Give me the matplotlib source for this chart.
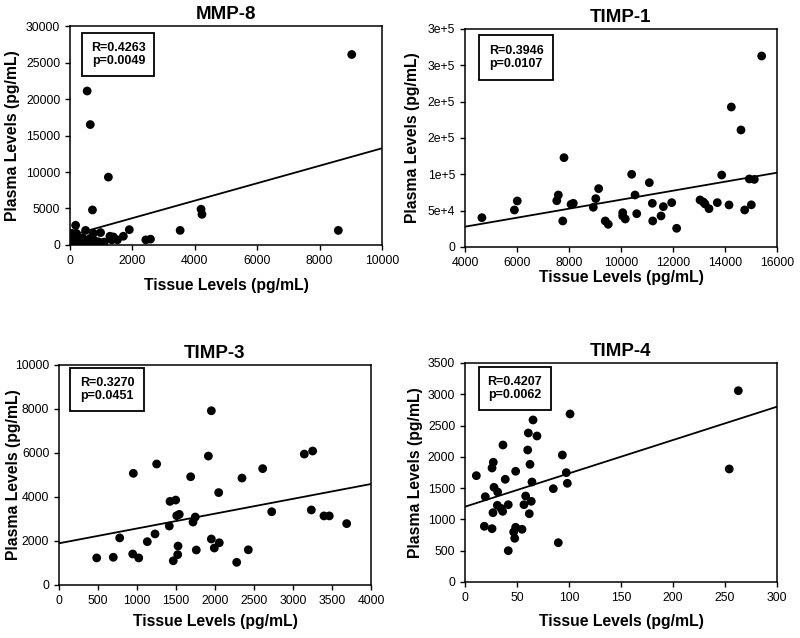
import matplotlib
matplotlib.use("Agg")
import matplotlib.pyplot as plt
from matplotlib.patches import Rectangle

plt.rcParams['font.family'] = ['Liberation Sans', 'DejaVu Sans']

# ---------------- data ----------------
mmp8_x = [9030, 550, 650, 1230, 720, 4200, 4230, 8600, 3530, 1900, 180, 500, 50, 200,
          750, 980, 0, 150, 320, 400, 640, 750, 900, 1030, 1280, 1390, 1340, 1520, 1710,
          2430, 2580, 100, 430, 590, 820, 700, 250, 60, 1100, 350]
mmp8_y = [26100, 21100, 16500, 9300, 4800, 4900, 4200, 2000, 2000, 2100, 2700, 2000, 1600, 1600,
          1600, 1700, 700, 1000, 700, 1000, 900, 700, 450, 300, 1200, 1100, 700, 700, 1200,
          700, 800, 450, 450, 450, 450, 200, 300, 300, 400, 600]
mmp8_trend_x = [0, 10000]
mmp8_trend_y = [1290, 13250]

timp1_x = [15410, 14243, 14615, 7808, 10410, 13873, 14935, 15127, 11090, 9140, 7590, 7530,
           6010, 5900, 4650, 7760, 8080, 8165, 9030, 8935, 9395, 9510, 10065, 10065, 10165,
           10540, 10605, 11205, 11220, 11540, 11630, 11950, 12140, 13040, 13165, 13230,
           13385, 13705, 14155, 14757, 15012]
timp1_y = [262800, 192600, 161000, 122900, 100000, 99000, 93600, 93000, 88500, 80300, 71500,
           63700, 63300, 50900, 40300, 35800, 58700, 60100, 66500, 54600, 35800, 31200, 47200,
           42700, 38500, 71500, 45800, 60100, 35800, 42700, 55500, 61000, 25700, 64700, 61900,
           59200, 52700, 61000, 57800, 50900, 58000]
timp1_trend_x = [4000, 16000]
timp1_trend_y = [27900, 102200]
timp1_yticks = [0, 50000, 100000, 150000, 200000, 250000, 300000]
timp1_yticklabels = ["0", "5e+4", "1e+5", "2e+5", "2e+5", "3e+5", "3e+5"]

timp3_x = [1953, 1915, 3145, 3252, 1252, 953, 1688, 2346, 2611, 2047, 1423, 1496, 1509, 1542,
           1747, 1718, 1414, 1231, 778, 1132, 1953, 2055, 1991, 1526, 1760, 1522, 1465, 945,
           1022, 696, 483, 2278, 2427, 2727, 3235, 3397, 3465, 3688]
timp3_y = [7920, 5860, 5950, 6090, 5500, 5075, 4920, 4860, 5290, 4200, 3800, 3860, 3150, 3210,
           3090, 2860, 2680, 2320, 2140, 1970, 2090, 1920, 1680, 1770, 1590, 1380, 1100, 1410,
           1230, 1260, 1230, 1030, 1600, 3330, 3410, 3140, 3140, 2790]
timp3_trend_x = [0, 4000]
timp3_trend_y = [1895, 4590]

timp4_x = [262.8, 254.1, 101, 65.4, 60.9, 69.2, 36.5, 60.3, 93.6, 27.2, 26, 62.5, 10.9, 48.7,
           97.4, 38.7, 64.4, 98.4, 84.9, 27.9, 19.5, 31.4, 58.3, 31.1, 34.6, 36.2, 41.6, 56.7,
           63.7, 26.9, 61.8, 18.6, 26, 48.7, 54.8, 46.8, 47.8, 89.7, 41.6]
timp4_y = [3057, 1806, 2685, 2589, 2381, 2333, 2189, 2109, 2029, 1913, 1822, 1880, 1699, 1769,
           1747, 1641, 1598, 1577, 1491, 1513, 1363, 1438, 1374, 1225, 1177, 1129, 1235, 1235,
           1289, 1107, 1091, 890, 852, 874, 842, 799, 698, 628, 500]
timp4_trend_x = [0, 300]
timp4_trend_y = [1203, 2801]

titles = ["MMP-8", "TIMP-1", "TIMP-3", "TIMP-4"]
stats = ["R=0.4263\np=0.0049", "R=0.3946\np=0.0107", "R=0.3270\np=0.0451", "R=0.4207\np=0.0062"]
xlabel = "Tissue Levels (pg/mL)"
ylabel = "Plasma Levels (pg/mL)"

# ---------------- figure ----------------
fig = plt.figure(figsize=(8.0, 6.38), dpi=100)
fig.patch.set_facecolor("white")

axes_pos = [
    [0.0875, 0.616, 0.39, 0.3432],
    [0.58125, 0.6129, 0.39, 0.3417],
    [0.07375, 0.0831, 0.39, 0.3448],
    [0.58125, 0.0878, 0.39, 0.3433],
]
box_pos = [
    (0.040, 0.772, 0.230, 0.198),
    (0.044, 0.767, 0.239, 0.207),
    (0.035, 0.792, 0.237, 0.193),
    (0.044, 0.784, 0.232, 0.196),
]
ylabel_x = [-0.183, -0.167, -0.147, -0.160]
xlabel_y = [-0.183, -0.138, -0.167, -0.181]

panels = [
    (mmp8_x, mmp8_y, mmp8_trend_x, mmp8_trend_y, (0, 10000), (0, 30000),
     [0, 2000, 4000, 6000, 8000, 10000], [0, 5000, 10000, 15000, 20000, 25000, 30000], None),
    (timp1_x, timp1_y, timp1_trend_x, timp1_trend_y, (4000, 16000), (0, 300000),
     [4000, 6000, 8000, 10000, 12000, 14000, 16000], timp1_yticks, timp1_yticklabels),
    (timp3_x, timp3_y, timp3_trend_x, timp3_trend_y, (0, 4000), (0, 10000),
     [0, 500, 1000, 1500, 2000, 2500, 3000, 3500, 4000], [0, 2000, 4000, 6000, 8000, 10000], None),
    (timp4_x, timp4_y, timp4_trend_x, timp4_trend_y, (0, 300), (0, 3500),
     [0, 50, 100, 150, 200, 250, 300], [0, 500, 1000, 1500, 2000, 2500, 3000, 3500], None),
]

for i, (xs, ys, tx, ty, xl, yl, xt, yt, ytl) in enumerate(panels):
    ax = fig.add_axes(axes_pos[i])
    ax.scatter(xs, ys, s=40, color="black", zorder=3, edgecolors="none")
    ax.plot(tx, ty, color="black", lw=1.3, zorder=2)
    ax.set_xlim(*xl)
    ax.set_ylim(*yl)
    ax.set_xticks(xt)
    ax.set_yticks(yt)
    ax.set_xticklabels([str(v) for v in xt])
    if ytl is None:
        ax.set_yticklabels([str(v) for v in yt])
    else:
        ax.set_yticklabels(ytl)
    ax.tick_params(axis="both", direction="out", length=3.5, width=1, labelsize=8.8,
                   colors="black", pad=3.5)
    for sp in ax.spines.values():
        sp.set_linewidth(1.1)
        sp.set_color("black")
    ax.set_title(titles[i], fontsize=13.5, fontweight="bold", pad=5)
    ax.set_xlabel(xlabel, fontsize=11.3, fontweight="bold")
    ax.set_ylabel(ylabel, fontsize=11.3, fontweight="bold")
    ax.xaxis.set_label_coords(0.5, xlabel_y[i])
    ax.xaxis.label.set_verticalalignment("center")
    ax.yaxis.set_label_coords(ylabel_x[i], 0.5)
    ax.yaxis.label.set_verticalalignment("center")
    bx, by, bw, bh = box_pos[i]
    ax.add_patch(Rectangle((bx, by), bw, bh, transform=ax.transAxes, fill=True,
                           facecolor="white", edgecolor="black", lw=1.3, zorder=4))
    ax.text(bx + bw / 2, by + bh / 2, stats[i], transform=ax.transAxes, ha="center",
            va="center", fontsize=9, fontweight="bold", zorder=5, linespacing=1.15)

fig.savefig("out.png", dpi=100, facecolor="white")
